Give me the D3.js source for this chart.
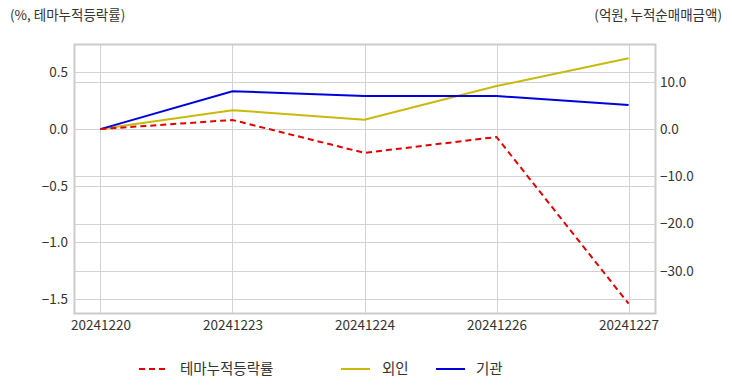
<!DOCTYPE html>
<html><head><meta charset="utf-8">
<script src="https://cdn.jsdelivr.net/npm/d3@7"></script>
<style>body{margin:0;background:#fff}svg{display:block}text{font-family:"Noto Sans CJK KR","Noto Sans",sans-serif}</style>
</head><body>
<svg id="c" width="732" height="392"></svg>
<script>
const dates = ["20241220","20241223","20241224","20241226","20241227"];
const themeRate = [0, 0.08, -0.21, -0.07, -1.54];
const foreign = [0, 4.0, 2.0, 9.1, 15.0];
const institution = [0, 8.0, 7.0, 7.0, 5.1];
const leftTicks = [0.5, 0.0, -0.5, -1.0, -1.5];
const rightTicks = [10, 0, -10, -20, -30];
const seriesNames = ["테마누적등락률","외인","기관"];

const svg = d3.select("#c");
const L = 74, R = 655, T = 44, B = 313;
const x = d3.scalePoint().domain(dates).range([L, R]).padding(0.2);
const yL = d3.scaleLinear().domain([-1.622, 0.75]).range([B, T]);
const yR = d3.scaleLinear().domain([-38.9, 18]).range([B, T]);

const grid = svg.append("g").attr("stroke", "#d3d3d3").attr("stroke-width", 1);
leftTicks.forEach(v => grid.append("line").attr("x1", L).attr("x2", R).attr("y1", Math.round(yL(v))+0.5).attr("y2", Math.round(yL(v))+0.5));
rightTicks.forEach(v => grid.append("line").attr("x1", L).attr("x2", R).attr("y1", Math.round(yR(v))+0.5).attr("y2", Math.round(yR(v))+0.5));
dates.forEach(d => grid.append("line").attr("y1", T).attr("y2", B).attr("x1", Math.round(x(d))+0.5).attr("x2", Math.round(x(d))+0.5));
svg.append("rect").attr("x", L+0.5).attr("y", T+0.5).attr("width", R-L).attr("height", B-T).attr("fill", "none").attr("stroke", "#cccccc").attr("stroke-width", 2);

const axL = d3.axisLeft(yL).tickValues(leftTicks).tickFormat(d3.format(".1f")).tickSize(0).tickPadding(6);
const gL = svg.append("g").attr("transform", `translate(${L},0)`).call(axL);
const axR = d3.axisRight(yR).tickValues(rightTicks).tickFormat(d3.format(".1f")).tickSize(0).tickPadding(5);
const gR = svg.append("g").attr("transform", `translate(${R},0)`).call(axR);
const axB = d3.axisBottom(x).tickSize(0).tickPadding(7);
const gB = svg.append("g").attr("transform", `translate(0,${B})`).call(axB);
[gL, gR, gB].forEach(g => { g.select(".domain").remove(); g.selectAll("text").attr("fill", "#333").attr("font-size", 13.5).attr("font-family", '"Noto Sans CJK KR","Noto Sans",sans-serif'); });

const lineL = d3.line().x((d,i) => x(dates[i])).y(d => yL(d));
const lineR = d3.line().x((d,i) => x(dates[i])).y(d => yR(d));
svg.append("path").datum(foreign).attr("d", lineR).attr("fill", "none").attr("stroke", "#c8b90a").attr("stroke-width", 2);
svg.append("path").datum(institution).attr("d", lineR).attr("fill", "none").attr("stroke", "#0000dd").attr("stroke-width", 2);
svg.append("path").datum(themeRate).attr("d", lineL).attr("fill", "none").attr("stroke", "#e00000").attr("stroke-width", 2).attr("stroke-dasharray", "6,4");

svg.append("text").attr("x", 10).attr("y", 20).attr("font-size", 13.5).attr("fill", "#333").text("(%, 테마누적등락률)");
svg.append("text").attr("x", 722).attr("y", 20).attr("text-anchor", "end").attr("font-size", 13.5).attr("fill", "#333").text("(억원, 누적순매매금액)");

const leg = [
  {name: seriesNames[0], color: "#e00000", dash: "6,4", x1: 139, tx: 180},
  {name: seriesNames[1], color: "#c8b90a", dash: null, x1: 341, tx: 382},
  {name: seriesNames[2], color: "#0000dd", dash: null, x1: 436, tx: 476}
];
leg.forEach(l => {
  svg.append("line").attr("x1", l.x1).attr("x2", l.x1+29).attr("y1", 369).attr("y2", 369).attr("stroke", l.color).attr("stroke-width", 2).attr("stroke-dasharray", l.dash);
  svg.append("text").attr("x", l.tx).attr("y", 374).attr("font-size", 14.5).attr("fill", "#333").text(l.name);
});
</script>
</body></html>
